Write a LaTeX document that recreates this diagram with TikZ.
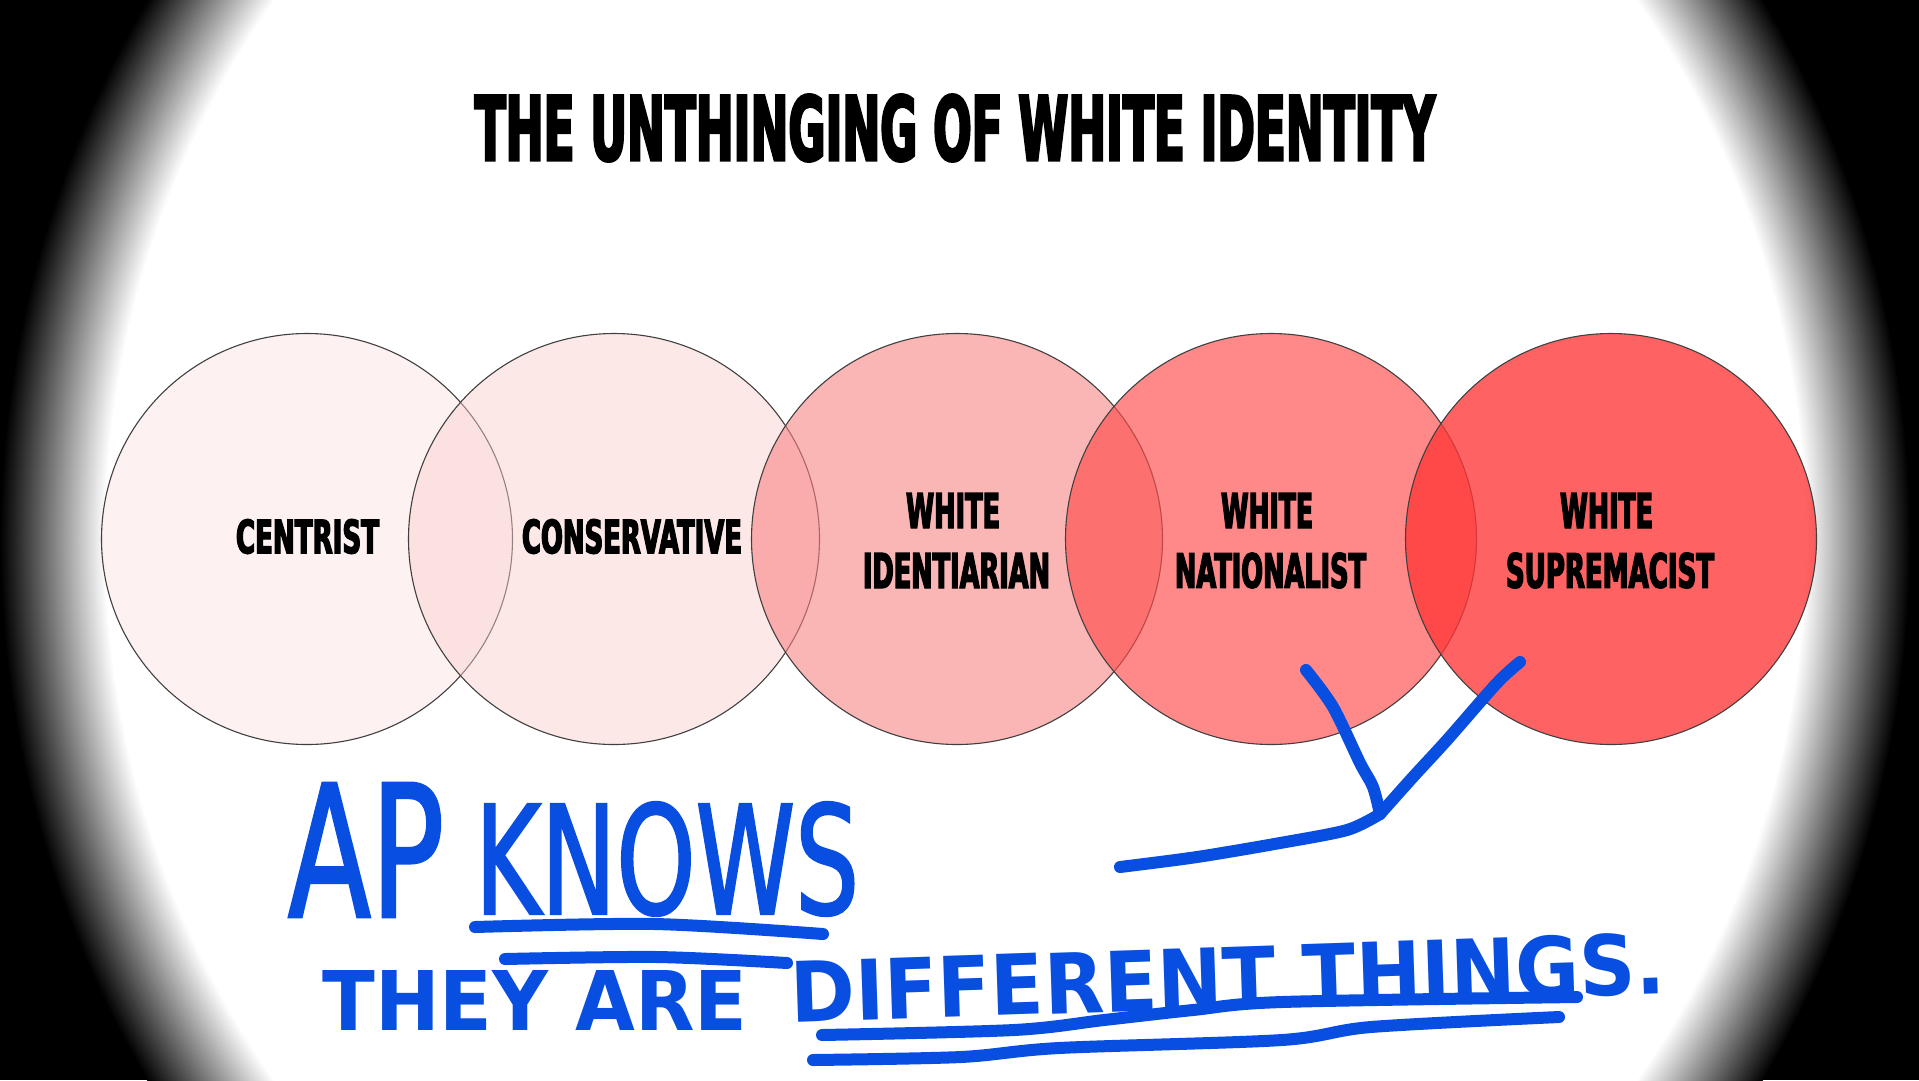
\documentclass[tikz,border=0pt]{standalone}
\usepackage{fontspec}
\usepackage{graphicx}
\newfontfamily\condbold{DejaVu Sans}[UprightFont={* Bold}, FakeStretch=0.6, FakeBold=3]
\newfontfamily\handfont{DejaVu Sans}[FakeStretch=0.75, FakeBold=1.5]
\newfontfamily\handfontb{DejaVu Sans}[UprightFont={* Bold}, FakeStretch=0.75]
\definecolor{handblue}{RGB}{8,78,224}
\definecolor{redA}{RGB}{252,229,229}
\definecolor{redB}{RGB}{252,207,207}
\definecolor{redC}{RGB}{248,130,130}
\definecolor{redD}{RGB}{255,77,77}
\definecolor{redE}{RGB}{255,54,54}
\pgfdeclareradialshading{vignette}{\pgfpoint{0bp}{0bp}}{color(0bp)=(white); color(22.25bp)=(white); color(25bp)=(black); color(50bp)=(black)}
\newcommand{\fitto}[3]{\resizebox{#1pt}{#2pt}{#3}}
\begin{document}
\begin{tikzpicture}[x=1pt,y=-1pt,
  ring/.style={circle, minimum size=411pt, inner sep=0pt, draw=black!75, line width=1.1pt},
  lbl/.style={inner sep=0pt, text=black},
  hand/.style={inner sep=0pt, text=handblue},
  penstroke/.style={draw=handblue, line width=12pt, line cap=round, line join=round}]
\useasboundingbox (0,0) rectangle (1919,1080);
\clip (0,0) rectangle (1919,1080);
% vignette background
\fill[black] (0,0) rectangle (1919,1080);
\shade[shading=vignette] (955,540) ellipse [x radius=955, y radius=1013];
% title
\node[lbl] (title) at (955,128) {\fitto{960}{66}{\condbold THE UNTHINGING OF WHITE IDENTITY}};
% circles
\node[ring, fill=redA, fill opacity=0.5] (c1) at (307,539) {};
\node[ring, fill=redB, fill opacity=0.46] (c2) at (614,539) {};
\node[ring, fill=redC, fill opacity=0.59] (c3) at (957,539) {};
\node[ring, fill=redD, fill opacity=0.66] (c4) at (1271,539) {};
\node[ring, fill=redE, fill opacity=0.78] (c5) at (1611,539) {};
% labels
\node[lbl] (t1) at (307.5,536.5) {\fitto{143}{34}{\condbold CENTRIST}};
\node[lbl] (t2) at (632,536.5) {\fitto{220}{34}{\condbold CONSERVATIVE}};
\node[lbl] (t3a) at (953,510.5) {\fitto{94}{35}{\condbold WHITE}};
\node[lbl] (t3b) at (956.5,570.5) {\fitto{187}{35}{\condbold IDENTIARIAN}};
\node[lbl] (t4a) at (1267,510.5) {\fitto{92}{35}{\condbold WHITE}};
\node[lbl] (t4b) at (1270.5,570.5) {\fitto{191}{35}{\condbold NATIONALIST}};
\node[lbl] (t5a) at (1606.5,510.5) {\fitto{93}{35}{\condbold WHITE}};
\node[lbl] (t5b) at (1610,570.5) {\fitto{208}{35}{\condbold SUPREMACIST}};
% handwriting
\node[hand] (ap) at (366,850) {\fitto{156}{134}{\handfont AP}};
\node[hand] (knows) at (667,859) {\fitto{384}{112}{\handfont KNOWS}};
\node[hand] (theyare) at (535,1000) {\fitto{425}{60}{\handfontb THEY ARE}};
\node[hand, rotate=1.9] (diff) at (1228,977.5) {\fitto{875}{62}{\handfontb DIFFERENT THINGS.}};
% bracket
\coordinate (yl) at (1306,670);
\coordinate (yr) at (1520,662);
\coordinate (yj) at (1380,814);
\coordinate (yt) at (1120,867);
\draw[penstroke] plot[smooth] coordinates {(yl) (1333,707) (1360,763) (1373,787) (yj)};
\draw[penstroke] plot[smooth] coordinates {(yr) (1497,683) (1447,740) (1413,777) (yj)};
\draw[penstroke] plot[smooth] coordinates {(yj) (1347,830) (1280,843) (1197,857) (yt)};
% underlines
\draw[penstroke] plot[smooth] coordinates {(475,927) (655,924) (823,934)};
\draw[penstroke] plot[smooth] coordinates {(505,959) (657,957) (787,963)};
\draw[penstroke] plot[smooth] coordinates {(822,1035) (1014,1030) (1104,1020) (1193,1010) (1282,1002) (1577,997)};
\draw[penstroke] plot[smooth] coordinates {(813,1060) (961,1057) (1059,1048) (1282,1040) (1371,1027) (1559,1017)};
\end{tikzpicture}
\end{document}
